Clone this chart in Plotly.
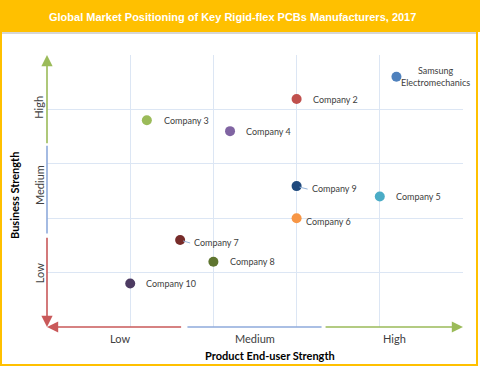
import plotly.graph_objects as go

# ---- data ----
companies = ["Samsung<br>Electromechanics", "Company 2", "Company 3", "Company 4", "Company 9",
             "Company 5", "Company 6", "Company 7", "Company 8", "Company 10"]
product_strength = [4.2, 3.0, 1.2, 2.2, 3.0, 4.0, 3.0, 1.6, 2.0, 1.0]
business_strength = [4.6, 4.19, 3.8, 3.6, 2.59, 2.4, 2.0, 1.6, 1.2, 0.8]
x_tick_labels = ["Low", "Medium", "High"]
x_tick_pos = [0.88, 2.5, 4.18]
y_tick_labels = ["Low", "Medium", "High"]
y_tick_pos = [0.99, 2.61, 4.03]

colors = ["#4F81BD", "#C0504D", "#9BBB59", "#8064A2", "#1F497D",
          "#4BACC6", "#F79646", "#772C2A", "#5F7530", "#4D3B62"]
# label offsets in pixels (dx, dy, anchor)
label_off = [(39, 0, "center"), (14, 0, "left"), (15, 0, "left"), (14, 0, "left"), (13, -2, "left"),
             (14, 0, "left"), (7, -3, "left"), (12, -3, "left"), (15, 0, "left"), (14, 0, "left")]

W, H = 480, 367
L, R, T, B = 47, 17, 55, 40
pw, ph = W - L - R, H - T - B

def px(xp):
    return (xp - L) / pw

def py(yp):
    return (H - B - yp) / ph

fig = go.Figure()
fig.add_trace(go.Scatter(
    x=product_strength, y=business_strength, mode="markers",
    marker=dict(size=10, color=colors, line=dict(width=0)),
    cliponaxis=False, hoverinfo="skip", showlegend=False))

ann = []
font_lbl = dict(family="Lato, Open Sans, sans-serif", size=9, color="#404040")
for name, xv, yv, (dx, dy, anc) in zip(companies, product_strength, business_strength, label_off):
    ann.append(dict(x=xv, y=yv, xref="x", yref="y", text=name, showarrow=False,
                    xanchor=anc, yanchor="middle", xshift=dx, yshift=dy, font=font_lbl,
                    align="center"))

shapes = []
# leader lines for Company 9 and Company 7
for idx, (x0, y0, x1, y1) in [(4, (3, -1, 11, -3)), (7, (3, -1, 10, -3))]:
    shapes.append(dict(type="line", xref="x", yref="y", xsizemode="pixel", ysizemode="pixel",
                       xanchor=product_strength[idx], yanchor=business_strength[idx],
                       x0=x0, y0=y0, x1=x1, y1=y1, line=dict(color="#95B3D7", width=1)))

# axis arrows
red, blue, green = "#C9595A", "#8EAADB", "#9BBB59"
def seg(x0, y0, x1, y1, color, head):
    ann.append(dict(x=x1, y=y1, ax=x0, ay=y0, xref="x", yref="y", axref="x", ayref="y",
                    text="", showarrow=True, arrowhead=2 if head else 0, arrowsize=1.4,
                    arrowwidth=1.6, arrowcolor=color, standoff=0, startstandoff=0))

seg(0, 3.35, 0, 5, green, True)
seg(0, 1.69, 0, 3.33, blue, False)
seg(0, 1.67, 0, 0, red, True)
seg(1.63, 0, 0, 0, red, True)
seg(1.67, 0, 3.3, 0, blue, False)
seg(3.33, 0, 5, 0, green, True)

# category labels
font_cat = dict(family="Lato, Open Sans, sans-serif", size=11, color="#404040")
for t, p in zip(x_tick_labels, x_tick_pos):
    ann.append(dict(x=p, y=py(338), xref="x", yref="paper", text=t, showarrow=False,
                    xanchor="center", yanchor="middle", font=font_cat))
for t, p in zip(y_tick_labels, y_tick_pos):
    ann.append(dict(x=px(39), y=p, xref="paper", yref="y", text=t, showarrow=False,
                    textangle=-90, xanchor="center", yanchor="middle", font=font_cat))

# axis titles
font_title = dict(family="Lato, Open Sans, sans-serif", size=11, color="#000000")
ann.append(dict(x=px(270), y=py(355), xref="paper", yref="paper",
                text="<b>Product End-user Strength</b>", showarrow=False,
                xanchor="center", yanchor="middle", font=font_title))
ann.append(dict(x=px(15), y=py(196), xref="paper", yref="paper",
                text="<b>Business Strength</b>", showarrow=False, textangle=-90,
                xanchor="center", yanchor="middle", font=font_title))

# title band and border
shapes.append(dict(type="rect", xref="paper", yref="paper", x0=px(0), x1=px(480),
                   y0=py(32), y1=py(0), fillcolor="#FFC000", line=dict(width=0), layer="below"))
shapes.append(dict(type="line", xref="paper", yref="paper", x0=px(2), x1=px(477),
                   y0=py(33), y1=py(33), line=dict(color="#C8C8C8", width=1.5)))
shapes.append(dict(type="rect", xref="paper", yref="paper", x0=px(1), x1=px(477),
                   y0=py(365), y1=py(1), line=dict(color="#FFC000", width=2)))
ann.append(dict(x=px(232), y=py(17), xref="paper", yref="paper",
                text="<b>Global Market Positioning of Key Rigid-flex PCBs Manufacturers, 2017</b>",
                showarrow=False, xanchor="center", yanchor="middle",
                font=dict(family="Liberation Sans, Arial, sans-serif", size=11, color="white")))

grid = "#DCE6F4"
fig.update_layout(
    width=W, height=H, margin=dict(l=L, r=R, t=T, b=B),
    paper_bgcolor="white", plot_bgcolor="white",
    xaxis=dict(range=[0, 5], tickvals=[0, 1, 2, 3, 4, 5], showticklabels=False,
               showgrid=True, gridcolor=grid, gridwidth=1, zeroline=False, showline=False,
               fixedrange=True),
    yaxis=dict(range=[0, 5], tickvals=[0, 1, 2, 3, 4, 5], showticklabels=False,
               showgrid=True, gridcolor=grid, gridwidth=1, zeroline=False, showline=False,
               fixedrange=True),
    annotations=ann, shapes=shapes,
)
fig.write_html("out.html", config={"displayModeBar": False},
               post_script="document.body.style.margin='0';document.body.style.padding='0';")
